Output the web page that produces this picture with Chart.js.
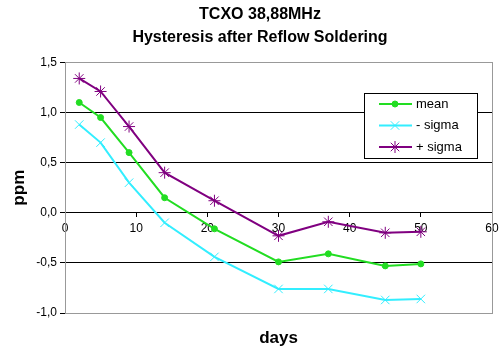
<!DOCTYPE html>
<html>
<head>
<meta charset="utf-8">
<script src="https://cdn.jsdelivr.net/npm/chart.js@4/dist/chart.umd.min.js"></script>
<style>
  html, body { margin: 0; padding: 0; background: #fff; }
  #wrap { width: 500px; height: 351px; }
</style>
</head>
<body>
<div id="wrap"><canvas id="hystChart"></canvas></div>
<script>
const days = [2, 5, 9, 14, 21, 30, 37, 45, 50];
const meanValues = [1.10, 0.95, 0.60, 0.15, -0.16, -0.49, -0.41, -0.53, -0.51];
const minusSigma = [0.88, 0.70, 0.30, -0.10, -0.44, -0.76, -0.76, -0.87, -0.86];
const plusSigma = [1.34, 1.21, 0.86, 0.40, 0.12, -0.23, -0.09, -0.20, -0.19];
const seriesNames = ["mean", "- sigma", "+ sigma"];
const titleLines = ["TCXO 38,88MHz", "Hysteresis after Reflow Soldering"];

const toPoints = (vals) => vals.map((v, i) => ({x: days[i], y: v}));
const FONT = "'Liberation Sans', Arial, sans-serif";

// grey frame round the plot area, like the Excel plot area border
const plotFrame = {
    id: "plotFrame",
    beforeDatasetsDraw(chart) {
        const a = chart.chartArea;
        const ctx = chart.ctx;
        ctx.save();
        ctx.strokeStyle = "#999";
        ctx.lineWidth = 1;
        ctx.strokeRect(Math.round(a.left) + 0.5, Math.round(a.top) + 0.5,
            Math.round(a.right - a.left), Math.round(a.bottom - a.top));
        ctx.restore();
    }
};

// legend box inside the plot area
const boxLegend = {
    id: "boxLegend",
    afterDraw(chart) {
        const a = chart.chartArea;
        const ctx = chart.ctx;
        const left = Math.round(a.right - 128), top = Math.round(a.top + 31), w = 113, h = 65;
        ctx.save();
        ctx.fillStyle = "#fff";
        ctx.fillRect(left, top, w, h);
        ctx.strokeStyle = "#000";
        ctx.lineWidth = 1;
        ctx.strokeRect(left + 0.5, top + 0.5, w, h);
        chart.data.datasets.forEach((ds, i) => {
            const y = top + 11 + i * 21.5;
            ctx.strokeStyle = ds.borderColor;
            ctx.lineWidth = 2;
            ctx.beginPath();
            ctx.moveTo(left + 15, y);
            ctx.lineTo(left + 48, y);
            ctx.stroke();
            if (Chart.helpers && Chart.helpers.drawPoint) {
                ctx.fillStyle = ds.backgroundColor;
                ctx.lineWidth = 1;
                Chart.helpers.drawPoint(ctx, {
                    pointStyle: ds.pointStyle,
                    radius: ds.pointRadius,
                    borderWidth: 1,
                    rotation: 0
                }, left + 31, y);
            }
            ctx.fillStyle = "#000";
            ctx.font = "13px " + FONT;
            ctx.textBaseline = "middle";
            ctx.fillText(ds.label, left + 52, y);
        });
        ctx.restore();
    }
};

new Chart("hystChart", {
    type: "line",
    data: {
        datasets: [
            {
                label: seriesNames[0],
                data: toPoints(meanValues),
                borderColor: "#22dd22",
                backgroundColor: "#22dd22",
                borderWidth: 2,
                pointStyle: "circle",
                pointRadius: 3,
                pointBorderWidth: 1
            },
            {
                label: seriesNames[1],
                data: toPoints(minusSigma),
                borderColor: "#33eeff",
                backgroundColor: "#33eeff",
                borderWidth: 2,
                pointStyle: "crossRot",
                pointRadius: 6,
                pointBorderWidth: 1
            },
            {
                label: seriesNames[2],
                data: toPoints(plusSigma),
                borderColor: "#800080",
                backgroundColor: "#800080",
                borderWidth: 2,
                pointStyle: "star",
                pointRadius: 6,
                pointBorderWidth: 1
            }
        ]
    },
    options: {
        responsive: true,
        maintainAspectRatio: false,
        animation: false,
        layout: {padding: {left: 28, right: 8, top: 0, bottom: 2}},
        plugins: {
            legend: {display: false},
            tooltip: {enabled: false},
            title: {
                display: true,
                text: titleLines,
                color: "#000",
                font: {family: FONT, size: 16, weight: "bold", lineHeight: 1.45},
                padding: {top: 3, bottom: 13}
            }
        },
        scales: {
            x: {
                type: "linear",
                position: {y: 0},
                min: 0,
                max: 60,
                afterFit: (scale) => { scale.paddingRight = 0; scale.paddingLeft = 0; },
                ticks: {
                    stepSize: 10,
                    color: "#000",
                    padding: 5,
                    font: {family: FONT, size: 12}
                },
                grid: {drawOnChartArea: false, color: "#000", tickLength: 4},
                border: {color: "#000", width: 1}
            },
            x2: {
                type: "linear",
                position: "bottom",
                min: 0,
                max: 60,
                afterFit: (scale) => { scale.height = 36; scale.paddingRight = 0; },
                ticks: {display: false},
                grid: {display: false},
                border: {display: false},
                title: {
                    display: true,
                    text: "days",
                    color: "#000",
                    font: {family: FONT, size: 17, weight: "bold"},
                    padding: {top: 14, bottom: 0}
                }
            },
            y: {
                min: -1,
                max: 1.5,
                afterFit: (scale) => { scale.width = 37; },
                ticks: {
                    stepSize: 0.5,
                    color: "#000",
                    padding: 3,
                    font: {family: FONT, size: 12},
                    callback: (v) => v.toFixed(1).replace(".", ",")
                },
                grid: {
                    color: (c) => (c.tick.value === 1.5 || c.tick.value === -1) ? "rgba(0,0,0,0)" : "#000",
                    tickColor: "#000",
                    tickLength: 5
                },
                border: {color: "#000", width: 1},
                title: {
                    display: true,
                    text: "ppm",
                    color: "#000",
                    font: {family: FONT, size: 17, weight: "bold"},
                    padding: {top: -19, bottom: 0}
                }
            }
        }
    },
    plugins: [plotFrame, boxLegend]
});
</script>
</body>
</html>
